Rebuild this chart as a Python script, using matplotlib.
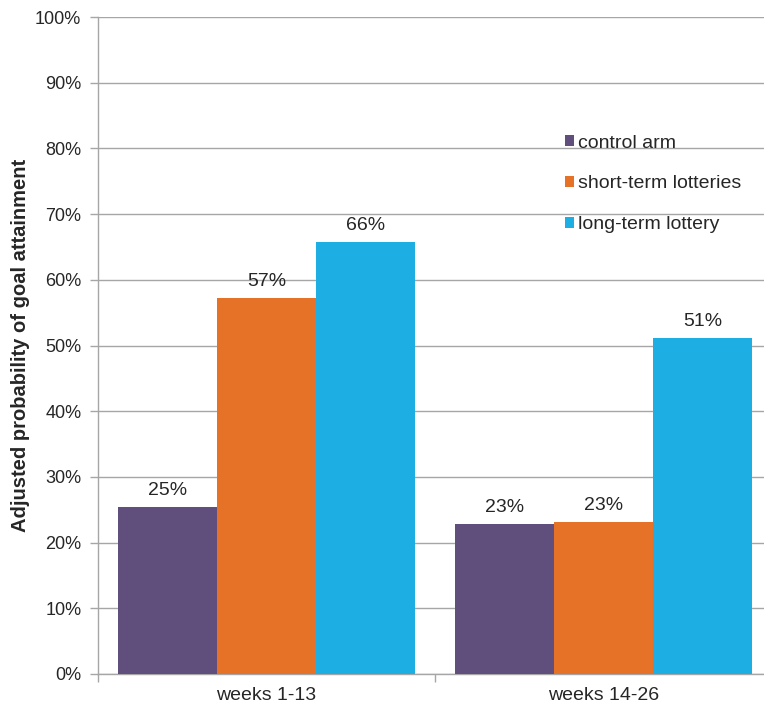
import matplotlib.pyplot as plt
import numpy as np
from matplotlib.patches import Patch
from matplotlib.ticker import PercentFormatter

plt.rcParams['font.family'] = ['Liberation Sans', 'DejaVu Sans']

periods = ['weeks 1-13', 'weeks 14-26']
arms = ['control arm', 'short-term lotteries', 'long-term lottery']
control = [25.4, 22.9]
short_term = [57.2, 23.1]
long_term = [65.8, 51.2]
colors = ['#604E7C', '#E57227', '#1DAFE4']

text_col = '#262626'
grid_col = '#A6A6A6'

fig = plt.figure(figsize=(7.64, 7.06), dpi=100)
# right edge runs past the figure so the last group sits near the border
ax = fig.add_axes([98/764, 1 - 674/706, 674/764, 657/706])

x = np.arange(len(periods))
w = 0.88 / 3
for k, (vals, c) in enumerate(zip([control, short_term, long_term], colors)):
    bars = ax.bar(x + (k - 1) * w, vals, width=w, color=c, zorder=3)
    for b, v in zip(bars, vals):
        ax.text(b.get_x() + b.get_width() / 2, v + 1.2, '%.0f%%' % v,
                ha='center', va='bottom', fontsize=14, color=text_col)

ax.set_xlim(-0.5, 1.5)
ax.set_ylim(0, 100)
ax.set_yticks(np.arange(0, 101, 10))
ax.yaxis.set_major_formatter(PercentFormatter(decimals=0))
ax.yaxis.grid(True, color=grid_col, linewidth=1)
ax.set_axisbelow(True)

ax.set_xticks(x)
ax.set_xticklabels(periods)
ax.set_xticks([-0.5, 0.5, 1.5], minor=True)
ax.tick_params(axis='x', which='major', length=0, pad=9, labelsize=14, labelcolor=text_col)
ax.tick_params(axis='x', which='minor', length=6, color=grid_col, width=1)
ax.tick_params(axis='y', length=6, color=grid_col, width=1, labelsize=13, labelcolor=text_col, pad=6)

for s in ['top', 'right']:
    ax.spines[s].set_visible(False)
for s in ['left', 'bottom']:
    ax.spines[s].set_color(grid_col)
    ax.spines[s].set_linewidth(1)

ax.set_ylabel('Adjusted probability of goal attainment', fontsize=14.5,
              fontweight='bold', color=text_col, labelpad=4)

handles = [Patch(facecolor=c, edgecolor='none') for c in colors]
fig.legend(handles, arms, loc='upper left', bbox_to_anchor=(547/764, 1 - 117/706),
           frameon=False, fontsize=14, labelcolor=text_col, handlelength=0.5,
           handleheight=0.5, handletextpad=0.2, labelspacing=1.23)

fig.savefig('out.png', dpi=100)
